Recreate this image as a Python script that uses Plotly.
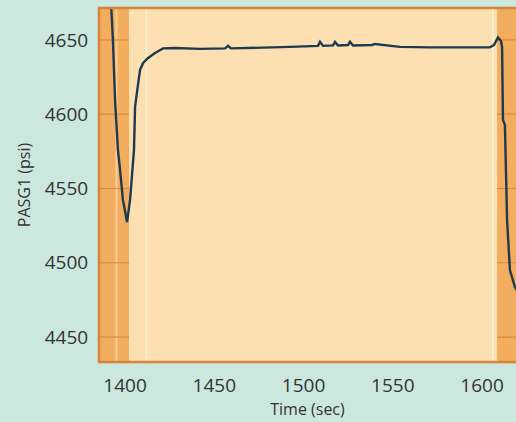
import plotly.graph_objects as go

# Data
time_sec = [1392.1, 1393.2, 1394.4, 1395.5, 1396.0, 1397.2, 1398.8, 1401.1,
            1402.8, 1405.0, 1405.6, 1406.7, 1408.4, 1410.1, 1412.9, 1416.8,
            1421.3, 1428.0, 1442.0, 1456.0, 1457.7, 1459.3, 1475.6, 1492.4,
            1508.1, 1509.2, 1510.9, 1516.5, 1517.6, 1519.3, 1524.9, 1526.0,
            1527.7, 1538.3, 1540.0, 1545.6, 1554.0, 1570.8, 1587.6, 1604.4,
            1606.7, 1608.9, 1610.6, 1611.2, 1611.7, 1612.8, 1614.0, 1615.6,
            1618.4, 1621.2]
pasg1_psi = [4676.0, 4650.0, 4609.6, 4582.7, 4576.0, 4562.5, 4542.3, 4527.4,
             4542.3, 4576.0, 4604.9, 4615.0, 4629.8, 4634.5, 4637.9, 4641.2,
             4644.3, 4644.6, 4644.0, 4644.3, 4646.0, 4644.3, 4644.6, 4645.3,
             4646.0, 4648.7, 4646.0, 4646.3, 4648.7, 4646.3, 4646.6, 4648.7,
             4646.3, 4646.6, 4647.3, 4646.6, 4645.3, 4645.0, 4645.0, 4645.0,
             4646.6, 4651.7, 4649.3, 4645.3, 4596.1, 4592.8, 4528.8, 4495.1,
             4483.7, 4478.0]

x_ticks = [1400, 1450, 1500, 1550, 1600]
y_ticks = [4450, 4500, 4550, 4600, 4650]
x_range = [1385.4, 1619.0]
y_range = [4433.2, 4671.5]

# Background bands (time ranges)
band_left = [1385.4, 1402.2]
band_right = [1608.4, 1630.0]

ORANGE = "#f2ad5e"
CREAM = "#fde0b2"
BORDER = "#d7843a"
GRID = "#dc8a3e"
TEXT = "#333333"
PAPER = "#cbe7de"

fig = go.Figure()
fig.add_trace(go.Scatter(
    x=time_sec, y=pasg1_psi, mode="lines",
    line=dict(color="#1e3a4e", width=2.4),
    showlegend=False, hoverinfo="skip",
))

shapes = [
    dict(type="rect", xref="x", yref="paper", x0=band_left[0], x1=band_left[1],
         y0=0, y1=1, fillcolor=ORANGE, line=dict(width=0), layer="below"),
    dict(type="rect", xref="x", yref="paper", x0=band_right[0], x1=band_right[1],
         y0=0, y1=1, fillcolor=ORANGE, line=dict(width=0), layer="below"),
    # faint light stripes
    dict(type="line", xref="x", yref="paper", x0=1395.2, x1=1395.2, y0=0, y1=1,
         line=dict(color="#f8cf98", width=2), layer="below"),
    dict(type="line", xref="x", yref="paper", x0=1412.0, x1=1412.0, y0=0, y1=1,
         line=dict(color="#fff1d8", width=1.5), layer="below"),
    dict(type="line", xref="x", yref="paper", x0=1606.1, x1=1606.1, y0=0, y1=1,
         line=dict(color="#fff4e2", width=1.5), layer="below"),
]
# grid lines visible only inside the orange bands
for yv in y_ticks:
    for b in (band_left, band_right):
        shapes.append(dict(type="line", xref="x", yref="y", x0=b[0], x1=b[1],
                           y0=yv, y1=yv, line=dict(color=GRID, width=1.2),
                           layer="below"))
# border
shapes.append(dict(type="rect", xref="paper", yref="paper", x0=0, x1=1.05, y0=0, y1=1,
                   line=dict(color=BORDER, width=2.5), layer="above"))

fig.update_layout(
    width=516, height=422,
    margin=dict(l=99, r=0, t=8, b=60, autoexpand=False),
    paper_bgcolor=PAPER,
    plot_bgcolor=CREAM,
    shapes=shapes,
    font=dict(family="Open Sans, Noto Sans, sans-serif", color=TEXT, size=19),
    xaxis=dict(
        range=x_range, tickvals=x_ticks, ticktext=[str(v) for v in x_ticks],
        showgrid=False, zeroline=False, showline=False, automargin=False,
        ticks="outside", ticklen=6, tickcolor="rgba(0,0,0,0)",
        tickfont=dict(size=19, color=TEXT),
        title=dict(text="Time (sec)", font=dict(size=16, color=TEXT), standoff=4),
    ),
    yaxis=dict(
        range=y_range, tickvals=y_ticks, ticktext=[str(v) for v in y_ticks],
        showgrid=False, zeroline=False, showline=False, automargin=False,
        ticks="outside", ticklen=6, tickcolor="rgba(0,0,0,0)",
        tickfont=dict(size=19, color=TEXT),
        title=dict(text="PASG1 (psi)", font=dict(size=16, color=TEXT), standoff=10),
    ),
)

fig.write_html(
    "out.html",
    config={"displayModeBar": False, "staticPlot": True},
    post_script="document.body.style.margin='0';document.body.style.overflow='hidden';"
                "document.body.style.background='" + PAPER + "';",
)
